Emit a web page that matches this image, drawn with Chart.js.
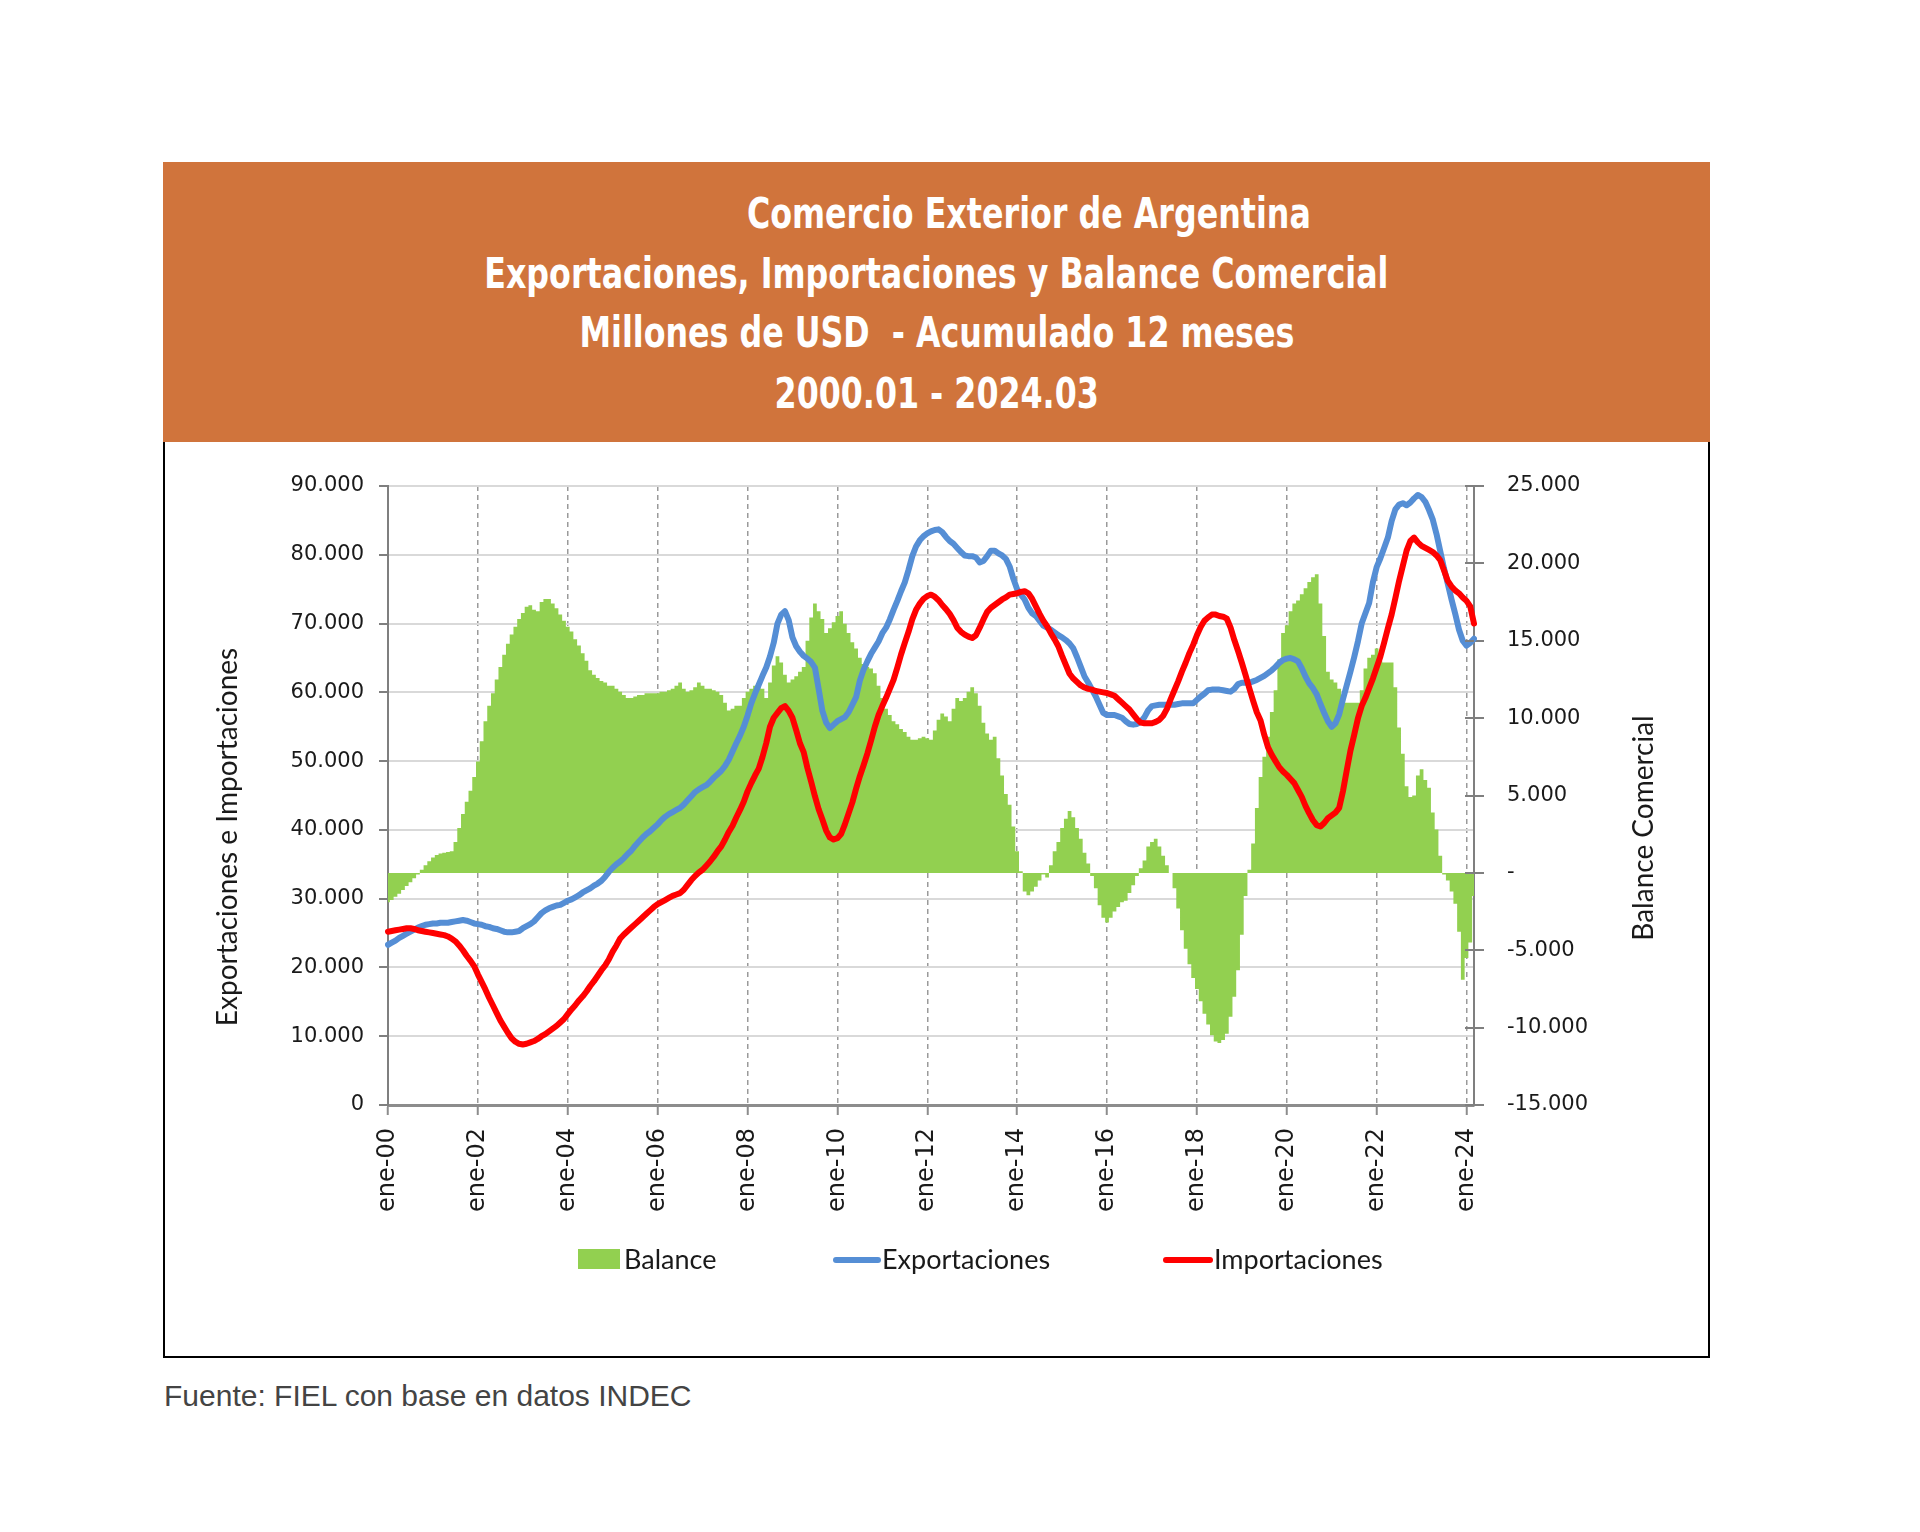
<!DOCTYPE html>
<html lang="es">
<head>
<meta charset="utf-8">
<title>Comercio Exterior de Argentina</title>
<script src="https://cdn.jsdelivr.net/npm/chart.js@4.4.1/dist/chart.umd.min.js"></script>
<style>
  html, body { margin: 0; padding: 0; background: #fff; }
  body { width: 1920px; height: 1532px; position: relative; overflow: hidden; }
  #header {
    position: absolute; left: 163px; top: 162px; width: 1547px; height: 280px;
    background: #D0743C; color: #fff;
    font-family: 'Liberation Sans Narrow', 'DejaVu Sans Condensed', sans-serif;
    font-weight: bold; font-size: 43px;
  }
  .tl { position: absolute; left: 0; width: 100%; text-align: center; white-space: pre; line-height: 43px; }
  .tl span { display: inline-block; transform: scaleX(0.82); transform-origin: 50% 50%; }
  #frame {
    position: absolute; left: 163px; top: 442px; width: 1543px; height: 914px;
    border: 2px solid #000; border-top: none;
  }
  #wrap { position: absolute; left: 165px; top: 444px; width: 1543px; height: 911px; }
  .lg { position: absolute; font-family: Lato, sans-serif; font-size: 27px; color: #1a1a1a; line-height: 30px; }
  .sw { position: absolute; }
  #fuente {
    position: absolute; left: 164px; top: 1380px; font-family: 'Liberation Sans', Arial, sans-serif;
    font-size: 30px; color: #444; line-height: 32px;
  }
</style>
</head>
<body>
<div id="header">
  <div class="tl" style="top:30px;"><span style="position:relative; left:92px;">Comercio Exterior de Argentina</span></div>
  <div class="tl" style="top:90px;"><span>Exportaciones, Importaciones y Balance Comercial</span></div>
  <div class="tl" style="top:149px;"><span>Millones de USD  - Acumulado 12 meses</span></div>
  <div class="tl" style="top:210px;"><span>2000.01 - 2024.03</span></div>
</div>
<div id="frame"></div>
<div id="wrap"><canvas id="chart"></canvas></div>

<div class="sw" style="left:578px; top:1249px; width:42px; height:20px; background:#92D050;"></div>
<div class="lg" style="left:624px; top:1244px;">Balance</div>
<div class="sw" style="left:833px; top:1257px; width:48px; height:6px; border-radius:3px; background:#558ED5;"></div>
<div class="lg" style="left:882px; top:1244px;">Exportaciones</div>
<div class="sw" style="left:1163px; top:1257px; width:50px; height:6px; border-radius:3px; background:#FF0000;"></div>
<div class="lg" style="left:1214px; top:1244px;">Importaciones</div>

<div id="fuente">Fuente: FIEL con base en datos INDEC</div>

<script>
// meses y años (2000.01 - 2024.03)
const meses = ["ene", "feb", "mar", "abr", "may", "jun", "jul", "ago", "sep", "oct", "nov", "dic"];
const anios = ["00", "01", "02", "03", "04", "05", "06", "07", "08", "09", "10", "11",
  "12", "13", "14", "15", "16", "17", "18", "19", "20", "21", "22", "23", "24"];

// Balance comercial, millones USD, acumulado 12 meses
const balance = [
  -1900, -1750, -1550, -1350, -1100, -850, -600, -350, -100, 200, 500, 750,
  1000, 1150, 1250, 1300, 1350, 1400, 2000, 2900, 3800, 4600, 5300, 6200,
  7200, 8500, 9800, 10800, 11600, 12500, 13300, 14100, 14800, 15400, 15900, 16400,
  16800, 17200, 17300, 17000, 16900, 17500, 17700, 17700, 17400, 17100, 16700, 16300,
  15900, 15600, 15100, 14700, 14200, 13700, 13100, 12800, 12600, 12400, 12300, 12100,
  12100, 11900, 11700, 11500, 11300, 11300, 11400, 11500, 11500, 11600, 11600, 11600,
  11600, 11700, 11700, 11800, 11900, 12100, 12300, 11900, 11700, 11800, 12000, 12300,
  12100, 11900, 11900, 11800, 11700, 11500, 11000, 10500, 10600, 10800, 10800, 11300,
  11700, 11900, 12100, 12100, 11900, 11300, 12300, 13400, 14000, 13600, 12800, 12300,
  12500, 12700, 13000, 13300, 15000, 16500, 17400, 16900, 16400, 15500, 15800, 16200,
  16600, 16900, 16100, 15500, 14900, 14500, 13900, 13500, 13300, 13200, 12900, 12100,
  11300, 10600, 10200, 9800, 9600, 9300, 9100, 8800, 8600, 8600, 8700, 8800,
  8700, 8600, 9200, 9900, 10300, 10100, 9800, 10600, 11300, 11100, 11300, 11700,
  12000, 11600, 10800, 9700, 9000, 8600, 8800, 7400, 6300, 5100, 4400, 3000,
  1400, 100, -1200, -1450, -1200, -900, -500, -100, -300, 500, 1400, 2000,
  2900, 3500, 4000, 3600, 2900, 2200, 1300, 600, -200, -1000, -2100, -2900,
  -3200, -2900, -2500, -2200, -1900, -1800, -1300, -800, -200, 300, 800, 1700,
  2000, 2200, 1700, 1100, 500, 0, -1000, -2300, -3700, -4900, -5900, -6800,
  -7500, -8300, -9100, -9800, -10500, -10900, -11000, -10800, -10400, -9300, -8000, -6300,
  -4000, -1500, 200, 1900, 4200, 6200, 7500, 8800, 10400, 11800, 13800, 15500,
  16000, 16900, 17400, 17600, 18000, 18400, 18800, 19100, 19300, 17400, 15300, 13000,
  12500, 12300, 11900, 11300, 11000, 11000, 11000, 11000, 11800, 13200, 13900, 14100,
  14500, 13700, 13600, 13600, 13600, 12000, 9400, 7700, 5600, 4900, 5000, 6300,
  6700, 6000, 5500, 3900, 2800, 1100, -100, -500, -1200, -2000, -3800, -6900,
  -5500, -4500, -1500
];

const exportaciones = [
  23300, 23600, 23900, 24300, 24600, 24900, 25200, 25500, 25800, 26000, 26200, 26300,
  26400, 26400, 26500, 26500, 26500, 26600, 26700, 26800, 26900, 26800, 26600, 26400,
  26300, 26200, 26000, 25900, 25700, 25600, 25400, 25200, 25100, 25100, 25200, 25300,
  25700, 26000, 26300, 26700, 27300, 27900, 28300, 28600, 28800, 29000, 29100, 29400,
  29700, 29900, 30200, 30500, 30900, 31200, 31500, 31900, 32200, 32600, 33200, 33900,
  34500, 35000, 35400, 35900, 36500, 37000, 37700, 38300, 38900, 39400, 39800, 40300,
  40800, 41400, 41900, 42300, 42600, 42900, 43200, 43700, 44300, 44900, 45500, 45900,
  46200, 46500, 47000, 47600, 48100, 48600, 49300, 50200, 51400, 52600, 53700, 55000,
  56600, 58400, 59800, 61100, 62400, 63600, 65200, 67200, 70000, 71300, 71800, 70500,
  68000, 66700, 65900, 65300, 64900, 64400, 63600, 60500, 57300, 55600, 54800, 55300,
  55800, 56100, 56400, 57100, 58200, 59300, 61700, 63300, 64500, 65600, 66500, 67400,
  68600, 69400, 70600, 72000, 73300, 74700, 76000, 77800, 79800, 81200, 82100, 82700,
  83100, 83400, 83600, 83700, 83300, 82600, 82000, 81600, 81000, 80400, 79900, 79800,
  79800, 79600, 78900, 79100, 79800, 80600, 80600, 80200, 79900, 79400, 78300, 76500,
  75000, 74200, 73500, 72300, 71500, 71100, 70400, 69700, 69400, 69100, 68700, 68300,
  68000, 67600, 67100, 66400, 65100, 63700, 62300, 61400, 60400, 59400, 58200, 57000,
  56700, 56700, 56700, 56500, 56300, 55800, 55400, 55300, 55400, 55700, 56400, 57400,
  58000, 58100, 58200, 58200, 58200, 58200, 58200, 58300, 58400, 58400, 58400, 58400,
  58900, 59400, 59800, 60300, 60400, 60400, 60400, 60300, 60200, 60100, 60500, 61200,
  61400, 61400, 61400, 61600, 61800, 62100, 62400, 62800, 63200, 63700, 64300, 64700,
  64900, 65000, 64800, 64500, 63500, 62300, 61300, 60600, 59700, 58300, 57000, 55800,
  55000, 55500, 56800, 59000, 61000, 63000, 65100, 67400, 70000, 71500, 73000, 76000,
  78200, 79500, 81000, 82500, 84900, 86600, 87300, 87500, 87200, 87600, 88200, 88700,
  88400, 87700, 86500, 85100, 83000, 80500, 78000, 75800, 73500, 71400, 69100, 67500,
  66800, 67200, 67800
];

const importaciones = [
  25200, 25300, 25400, 25500, 25600, 25700, 25700, 25600, 25400, 25300, 25200, 25100,
  25000, 24900, 24800, 24700, 24500, 24200, 23800, 23200, 22500, 21700, 21000, 20200,
  19000, 17900, 16800, 15600, 14500, 13400, 12300, 11400, 10500, 9700, 9200, 8900,
  8800, 8900, 9100, 9300, 9600, 10000, 10300, 10700, 11100, 11500, 12000, 12500,
  13200, 13900, 14500, 15200, 15800, 16500, 17300, 18000, 18800, 19600, 20300, 21200,
  22300, 23200, 24200, 24800, 25300, 25800, 26300, 26800, 27300, 27800, 28300, 28800,
  29200, 29500, 29800, 30100, 30400, 30600, 30800, 31300, 32000, 32700, 33300, 33800,
  34200, 34800, 35400, 36100, 36900, 37600, 38600, 39700, 40600, 41800, 42900, 44100,
  45600, 46800, 47900, 48900, 50600, 52600, 55000, 56300, 57000, 57700, 58000, 57300,
  56300, 54500, 52600, 51300, 49000, 47000, 44900, 43000, 41500, 39900, 38900, 38600,
  38800, 39400, 40800, 42400, 44000, 46000, 47800, 49400, 51100, 53000, 55000, 56700,
  58000, 59200, 60500, 61800, 63600, 65500, 67200, 68800, 70600, 72000, 72900, 73600,
  74000, 74200, 73900, 73400, 72700, 72100, 71400, 70500, 69400, 68800, 68400, 68100,
  67900, 68300, 69400, 70600, 71700, 72300, 72700, 73100, 73500, 73800, 74200, 74300,
  74400, 74600, 74700, 74400, 73600, 72500, 71400, 70400, 69600, 68600, 67700, 66700,
  65300, 64000, 62700, 62000, 61500, 61000, 60700, 60500, 60400, 60200, 60100, 60000,
  59900, 59700, 59500, 59000, 58500, 58000, 57500, 56800, 56100, 55600, 55500, 55500,
  55500, 55700, 56000, 56600, 57600, 59000, 60300, 61600, 63000, 64300, 65700, 66900,
  68300, 69500, 70400, 70900, 71300, 71300, 71100, 71000, 70700, 69400, 67600, 66000,
  64300, 62500, 60600, 58800, 57100, 55900, 53800, 52000, 50900, 50000, 49100, 48500,
  48000, 47400, 46800, 45800, 44800, 43500, 42400, 41400, 40700, 40500, 41000, 41700,
  42100, 42500, 43200, 45600, 48600, 51500, 53800, 56200, 58000, 59200, 60600, 62000,
  63600, 65200, 67200, 69300, 71300, 73700, 76200, 78400, 80600, 82000, 82500, 81800,
  81300, 81000, 80700, 80400, 79900, 79200, 77700, 76200, 75400, 74800, 74400, 73800,
  73300, 72500, 70000
];

// etiquetas "ene-00", "feb-00", ... "mar-24"
const labels = [];
anios.forEach(function (a) {
  meses.forEach(function (m) {
    if (labels.length < balance.length) labels.push(m + "-" + a);
  });
});

function miles(v) {
  const s = String(Math.abs(v)).replace(/\B(?=(\d{3})+(?!\d))/g, ".");
  return (v < 0 ? "-" : "") + s;
}

const tickFont = { family: "'DejaVu Sans', sans-serif", size: 21 };
const cada24 = function (ctx) { return ctx.tick && ctx.tick.value % 24 === 0; };

// titulos de ejes (los dos leen de abajo hacia arriba) y marcas del eje derecho
const axisTitles = {
  id: "axisTitles",
  afterDraw(chart) {
    const ctx = chart.ctx;
    ctx.save();
    // marcas hacia adentro del eje secundario
    const s = chart.scales.y1;
    ctx.strokeStyle = "#7f7f7f";
    ctx.lineWidth = 2;
    s.ticks.forEach(function (t) {
      const py = Math.round(s.getPixelForValue(t.value));
      ctx.beginPath();
      ctx.moveTo(s.left - 9, py);
      ctx.lineTo(s.left, py);
      ctx.stroke();
    });
    ctx.font = "28px Lato, sans-serif";
    ctx.fillStyle = "#1a1a1a";
    ctx.textAlign = "center";
    ctx.textBaseline = "middle";
    [["Exportaciones e Importaciones", 63, 393], ["Balance Comercial", 1479, 384]].forEach(function (t) {
      ctx.save();
      ctx.translate(t[1], t[2]);
      ctx.rotate(-Math.PI / 2);
      ctx.fillText(t[0], 0, 0);
      ctx.restore();
    });
    ctx.restore();
  }
};

new Chart(document.getElementById("chart"), {
  type: "line",
  data: {
    labels: labels,
    datasets: [
      {
        label: "Importaciones", data: importaciones, yAxisID: "y",
        borderColor: "#FF0000", borderWidth: 6, pointRadius: 0, tension: 0,
        borderJoinStyle: "round", borderCapStyle: "round", order: 0
      },
      {
        label: "Exportaciones", data: exportaciones, yAxisID: "y",
        borderColor: "#558ED5", borderWidth: 6, pointRadius: 0, tension: 0,
        borderJoinStyle: "round", borderCapStyle: "round", order: 1
      },
      {
        // columnas mensuales sin separación: area escalonada hasta el cero del eje derecho
        label: "Balance", data: balance, yAxisID: "y1",
        stepped: "middle", fill: "origin",
        backgroundColor: "#92D050", borderColor: "#92D050", borderWidth: 0,
        pointRadius: 0, order: 2
      }
    ]
  },
  options: {
    responsive: true,
    maintainAspectRatio: false,
    animation: false,
    layout: { padding: { top: 42, left: 0, right: 0, bottom: 0 } },
    plugins: { legend: { display: false }, tooltip: { enabled: false } },
    scales: {
      x: {
        offset: false,
        afterFit: function (s) { s.height = 250; },
        grid: {
          offset: false,
          color: function (ctx) { return cada24(ctx) ? "#9a9a9a" : "rgba(0,0,0,0)"; },
          tickColor: function (ctx) { return cada24(ctx) ? "#8c8c8c" : "rgba(0,0,0,0)"; },
          lineWidth: 1.5,
          tickWidth: 2,
          tickLength: 10,
          tickBorderDash: []
        },
        border: { color: "#8c8c8c", width: 3, dash: [5, 4] },
        ticks: {
          autoSkip: false,
          minRotation: 90,
          maxRotation: 90,
          padding: 13,
          color: "#1a1a1a",
          font: { family: "'DejaVu Sans', sans-serif", size: 24 },
          callback: function (v, i) { return i % 24 === 0 ? labels[i] : ""; }
        }
      },
      y: {
        position: "left",
        min: 0,
        max: 90000,
        afterFit: function (s) { s.width = 223; },
        grid: { color: "#d9d9d9", lineWidth: 2, tickColor: "#7f7f7f", tickLength: 9 },
        border: { color: "#7f7f7f", width: 2 },
        ticks: {
          stepSize: 10000, padding: 15, color: "#1a1a1a", font: tickFont,
          callback: function (v) { return miles(v); }
        }
      },
      y1: {
        position: "right",
        min: -15000,
        max: 25000,
        afterFit: function (s) { s.width = 234; },
        grid: { drawOnChartArea: false, tickColor: "#7f7f7f", tickLength: 10, lineWidth: 2 },
        border: { color: "#7f7f7f", width: 2 },
        ticks: {
          stepSize: 5000, padding: 23, color: "#1a1a1a", font: tickFont,
          callback: function (v) { return v === 0 ? "-" : miles(v); }
        }
      }
    }
  },
  plugins: [axisTitles]
});
</script>
</body>
</html>
